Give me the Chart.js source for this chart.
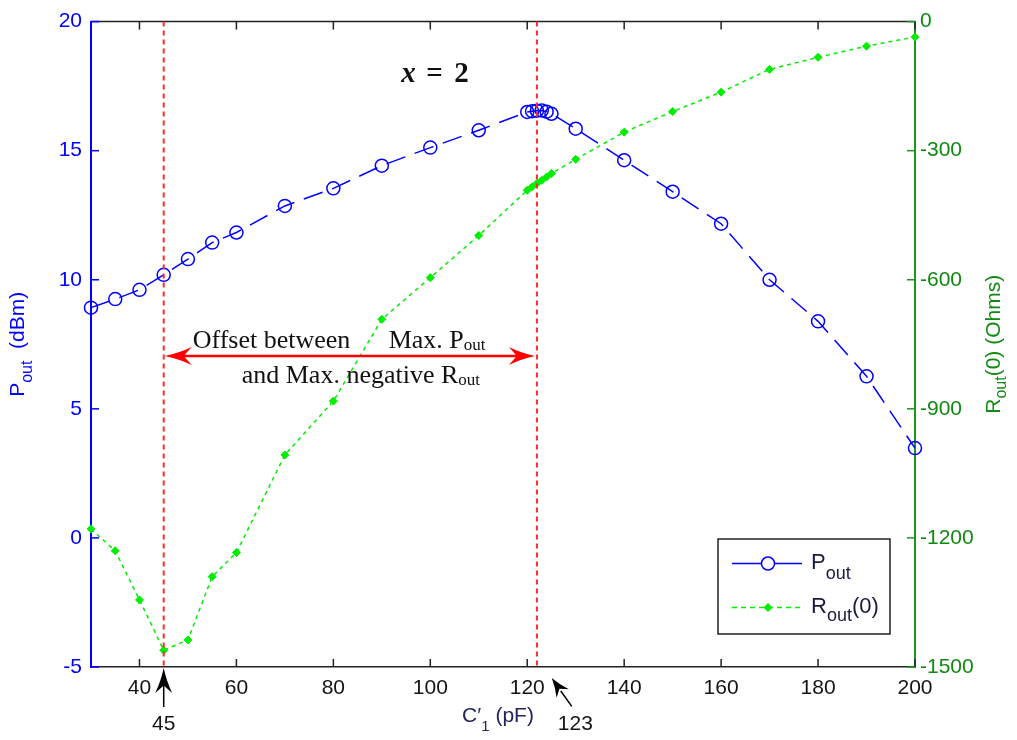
<!DOCTYPE html>
<html>
<head>
<meta charset="utf-8">
<script src="https://cdn.jsdelivr.net/npm/chart.js@4.4.1/dist/chart.umd.min.js"></script>
<style>
  html, body { margin: 0; padding: 0; background: #ffffff; }
  canvas { display: block; }
</style>
</head>
<body>
<canvas id="chart" width="1017" height="740"></canvas>
<script>
// C'1 sweep (pF) and the two responses
const capacitance = [30, 35, 40, 45, 50, 55, 60, 70, 80, 90, 100, 110, 120, 121, 122, 123, 124, 125, 130, 140, 150, 160, 170, 180, 190, 200];
const pout = [8.92, 9.25, 9.61, 10.19, 10.80, 11.44, 11.83, 12.86, 13.54, 14.42, 15.12, 15.79, 16.50, 16.53, 16.55, 16.56, 16.51, 16.43, 15.85, 14.63, 13.41, 12.17, 10.00, 8.39, 6.26, 3.48];
const rout = [-1179, -1230, -1344, -1461, -1437, -1290, -1234, -1007, -882, -692, -595, -497, -392, -384, -376, -369, -361, -353, -320, -257, -209, -164, -111, -83, -57, -36];

// tick labels
const xTicks = [40, 60, 80, 100, 120, 140, 160, 180, 200];
const poutTicks = [-5, 0, 5, 10, 15, 20];
const routTicks = [-1500, -1200, -900, -600, -300, 0];

// annotated capacitances
const maxNegRoutC = 45;
const maxPoutC = 122;
const maxPoutLabelC = 123;
const offsetArrowLevel = 7.05;   // Pout level of the double arrow
const xEqualsLevel = 17.66;      // Pout level of the "x = 2" caption
const xEqualsC = 94;

const SANS = "'Liberation Sans', Arial, sans-serif";
const SERIF = "'Liberation Serif', 'Times New Roman', serif";
const BLUE = '#0000ff';
const LIME = '#00ee00';
const AXIS_GREEN = '#1e961e';
const LABEL_GREEN = '#108a10';

function arrowHead(ctx, tipX, tipY, angle, len, half, color) {
  const dx = Math.cos(angle), dy = Math.sin(angle);
  const px = -dy, py = dx;
  const bx = tipX - dx * len, by = tipY - dy * len;
  const nx = tipX - dx * len * 0.7, ny = tipY - dy * len * 0.7;
  ctx.fillStyle = color;
  ctx.beginPath();
  ctx.moveTo(tipX, tipY);
  ctx.quadraticCurveTo(tipX - dx * len * 0.55 + px * half * 0.35, tipY - dy * len * 0.55 + py * half * 0.35, bx + px * half, by + py * half);
  ctx.lineTo(nx, ny);
  ctx.lineTo(bx - px * half, by - py * half);
  ctx.quadraticCurveTo(tipX - dx * len * 0.55 - px * half * 0.35, tipY - dy * len * 0.55 - py * half * 0.35, tipX, tipY);
  ctx.closePath();
  ctx.fill();
}

// draws text pieces [text, fontSize, baselineShift, style] one after another; returns total width
function richText(ctx, x, y, pieces, family, weightStyle, measureOnly) {
  let cx = x;
  pieces.forEach(([t, size, dy, style]) => {
    ctx.font = (style || weightStyle || '') + ' ' + size + 'px ' + family;
    if (!measureOnly) ctx.fillText(t, cx, y + dy);
    cx += ctx.measureText(t).width;
  });
  return cx - x;
}

const figureExtras = {
  id: 'figureExtras',
  afterDraw(chart) {
    const ctx = chart.ctx;
    const a = chart.chartArea;
    const xs = chart.scales.x, yp = chart.scales.yPout, yr = chart.scales.yRout;
    const seg = (x1, y1, x2, y2) => { ctx.beginPath(); ctx.moveTo(x1, y1); ctx.lineTo(x2, y2); ctx.stroke(); };
    ctx.save();

    // frame top edge and inward tick marks
    ctx.strokeStyle = '#222222';
    ctx.lineWidth = 1.5;
    seg(a.left, a.top, a.right, a.top);
    xTicks.forEach(v => {
      const p = xs.getPixelForValue(v);
      seg(p, a.bottom, p, a.bottom - 8);
      seg(p, a.top, p, a.top + 8);
    });
    ctx.strokeStyle = BLUE;
    poutTicks.forEach(v => { const p = yp.getPixelForValue(v); seg(a.left, p, a.left + 8, p); });
    ctx.strokeStyle = AXIS_GREEN;
    routTicks.forEach(v => { const p = yr.getPixelForValue(v); seg(a.right, p, a.right - 8, p); });

    // vertical markers at the two extrema
    ctx.strokeStyle = '#ff2a2a';
    ctx.lineWidth = 2;
    ctx.setLineDash([5, 4]);
    [maxNegRoutC, maxPoutC].forEach(v => { const p = xs.getPixelForValue(v); seg(p, a.top, p, a.bottom); });
    ctx.setLineDash([]);

    // double arrow between the extrema
    const ay = yp.getPixelForValue(offsetArrowLevel);
    const xl = xs.getPixelForValue(maxNegRoutC) + 1, xr = xs.getPixelForValue(maxPoutC) - 2;
    ctx.strokeStyle = '#ff0000';
    ctx.lineWidth = 2.5;
    seg(xl + 12, ay, xr - 12, ay);
    arrowHead(ctx, xl, ay, Math.PI, 27, 9, '#ff0000');
    arrowHead(ctx, xr, ay, 0, 26, 9, '#ff0000');

    // caption of the arrow
    ctx.fillStyle = '#111111';
    ctx.textAlign = 'left';
    ctx.textBaseline = 'alphabetic';
    richText(ctx, xl + 28, ay - 8, [['Offset between', 26, 0]], SERIF, '');
    richText(ctx, xl + 224, ay - 8, [['Max. P', 26, 0], ['out', 17, 2]], SERIF, '');
    richText(ctx, xl + 77, ay + 27, [['and Max. negative R', 26, 0], ['out', 17, 2]], SERIF, '');

    // x = 2
    const ex = xs.getPixelForValue(xEqualsC), ey = yp.getPixelForValue(xEqualsLevel);
    ctx.font = 'italic bold 29px ' + SERIF;
    ctx.fillText('x', ex, ey);
    ctx.font = 'bold 29px ' + SERIF;
    ctx.fillText('=', ex + 25, ey);
    ctx.fillText('2', ex + 53, ey);

    // pointers below the axis
    ctx.strokeStyle = '#000000';
    ctx.fillStyle = '#000000';
    ctx.lineWidth = 1.5;
    const p45 = xs.getPixelForValue(maxNegRoutC);
    seg(p45, a.bottom + 15, p45, a.bottom + 40);
    arrowHead(ctx, p45, a.bottom + 1, -Math.PI / 2, 25, 8.5, '#000000');
    const tipX = xs.getPixelForValue(maxPoutLabelC) + 10, tipY = a.bottom + 11;
    const ang = Math.atan2(-28.4, -20);
    seg(tipX + 9, tipY + 13, tipX + 20, tipY + 28.4);
    arrowHead(ctx, tipX, tipY, ang, 19, 7.5, '#000000');
    ctx.fillStyle = '#161616';
    ctx.font = '21px ' + SANS;
    ctx.textAlign = 'center';
    ctx.fillText(String(maxNegRoutC), p45, a.bottom + 63);
    ctx.textAlign = 'left';
    ctx.fillText(String(maxPoutLabelC), tipX + 6, a.bottom + 63);

    // axis titles
    ctx.fillStyle = '#25255a';
    const xt = [["C\u2032", 21, 0], ['1', 15, 9], [' (pF)', 21, 0]];
    const xw = richText(ctx, 0, 0, xt, SANS, '', true);
    richText(ctx, (a.left + a.right) / 2 - xw / 2 - 5, a.bottom + 55, xt, SANS, '');

    const midY = (a.top + a.bottom) / 2;
    ctx.save();
    ctx.translate(24, midY);
    ctx.rotate(-Math.PI / 2);
    ctx.fillStyle = BLUE;
    const lt = [['P', 21, 0], ['out', 16, 8], ['  (dBm)', 21, 0]];
    const lw = richText(ctx, 0, 0, lt, SANS, '', true);
    richText(ctx, -lw / 2, 0, lt, SANS, '');
    ctx.restore();

    ctx.save();
    ctx.translate(1000, midY);
    ctx.rotate(-Math.PI / 2);
    ctx.fillStyle = LABEL_GREEN;
    const rt = [['R', 21, 0], ['out', 16, 6], ['(0) (Ohms)', 21, 0]];
    const rw = richText(ctx, 0, 0, rt, SANS, '', true);
    richText(ctx, -rw / 2, 0, rt, SANS, '');
    ctx.restore();

    // legend box
    const lx = 718, ly = 539, lbw = 172, lbh = 95;
    ctx.fillStyle = '#ffffff';
    ctx.fillRect(lx, ly, lbw, lbh);
    ctx.strokeStyle = '#222222';
    ctx.lineWidth = 1.5;
    ctx.strokeRect(lx, ly, lbw, lbh);
    const r1 = ly + 24.5, r2 = ly + 68.5;
    ctx.strokeStyle = BLUE;
    seg(lx + 14, r1, lx + 84, r1);
    ctx.beginPath();
    ctx.arc(lx + 50, r1, 6.5, 0, Math.PI * 2);
    ctx.fillStyle = '#ffffff';
    ctx.fill();
    ctx.stroke();
    ctx.strokeStyle = LIME;
    ctx.setLineDash([5, 4]);
    seg(lx + 14, r2, lx + 84, r2);
    ctx.setLineDash([]);
    ctx.fillStyle = LIME;
    ctx.beginPath();
    ctx.moveTo(lx + 50, r2 - 4.5); ctx.lineTo(lx + 54.5, r2); ctx.lineTo(lx + 50, r2 + 4.5); ctx.lineTo(lx + 45.5, r2);
    ctx.closePath();
    ctx.fill();
    ctx.fillStyle = '#1a1a40';
    ctx.textAlign = 'left';
    richText(ctx, lx + 93, r1 + 5, [['P', 22, 0], ['out', 18, 10]], SANS, '');
    richText(ctx, lx + 93, r2 + 5, [['R', 22, 0], ['out', 18, 8], ['(0)', 22, 0]], SANS, '');

    ctx.restore();
  }
};

const poutPoints = capacitance.map((c, i) => ({ x: c, y: pout[i] }));
const routPoints = capacitance.map((c, i) => ({ x: c, y: rout[i] }));

new Chart(document.getElementById('chart'), {
  type: 'line',
  data: {
    datasets: [
      {
        label: 'Pout',
        data: poutPoints,
        yAxisID: 'yPout',
        clip: false,
        borderColor: BLUE,
        borderWidth: 1.5,
        borderDash: [20, 10],
        pointStyle: 'circle',
        pointRadius: 6.5,
        pointBorderWidth: 1.5,
        pointBorderColor: BLUE,
        pointBackgroundColor: 'rgba(0,0,0,0)',
        tension: 0,
        fill: false
      },
      {
        label: 'Rout(0)',
        data: routPoints,
        yAxisID: 'yRout',
        clip: false,
        borderColor: LIME,
        borderWidth: 1.5,
        borderDash: [4, 4],
        pointStyle: 'rectRot',
        pointRadius: 4,
        pointBorderWidth: 1,
        pointBorderColor: LIME,
        pointBackgroundColor: LIME,
        tension: 0,
        fill: false
      }
    ]
  },
  options: {
    responsive: false,
    animation: false,
    devicePixelRatio: 1,
    layout: { padding: { top: 19, left: 0, right: 0, bottom: 0 } },
    plugins: { legend: { display: false }, tooltip: { enabled: false } },
    scales: {
      x: {
        type: 'linear',
        position: 'bottom',
        min: 30,
        max: 200,
        afterBuildTicks: s => { s.ticks = xTicks.map(v => ({ value: v })); },
        afterFit: s => { s.height = 73; },
        grid: { drawOnChartArea: false, drawTicks: false },
        border: { color: '#222222', width: 1.5 },
        ticks: { font: { family: SANS, size: 21 }, color: '#141414', padding: 9, maxRotation: 0, callback: v => String(v) }
      },
      yPout: {
        type: 'linear',
        position: 'left',
        min: -5,
        max: 20,
        afterBuildTicks: s => { s.ticks = poutTicks.map(v => ({ value: v })); },
        afterFit: s => { s.width = 91; },
        grid: { drawOnChartArea: false, drawTicks: false },
        border: { color: BLUE, width: 2 },
        ticks: { font: { family: SANS, size: 21 }, color: BLUE, padding: 9, callback: v => String(v) }
      },
      yRout: {
        type: 'linear',
        position: 'right',
        min: -1500,
        max: 0,
        afterBuildTicks: s => { s.ticks = routTicks.map(v => ({ value: v })); },
        afterFit: s => { s.width = 102; },
        grid: { drawOnChartArea: false, drawTicks: false },
        border: { color: AXIS_GREEN, width: 2 },
        ticks: { font: { family: SANS, size: 21 }, color: LABEL_GREEN, padding: 5, callback: v => String(v) }
      }
    }
  },
  plugins: [figureExtras]
});
</script>
</body>
</html>
